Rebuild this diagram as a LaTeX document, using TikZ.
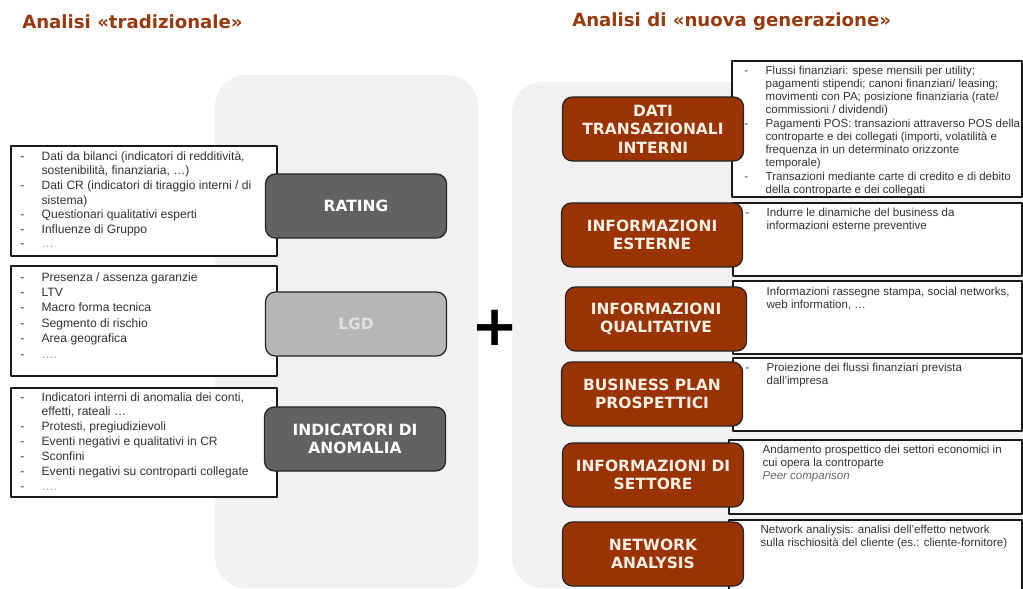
\documentclass[tikz,border=0pt]{standalone}
\usepackage{fontspec}
\setmainfont{Liberation Sans}
\newfontfamily\headfont{DejaVu Sans}
\usetikzlibrary{positioning}
\definecolor{panelgray}{RGB}{241,241,241}
\definecolor{titlebrown}{RGB}{150,58,14}
\definecolor{boxbrown}{RGB}{153,51,0}
\definecolor{boxdark}{RGB}{98,98,98}
\definecolor{boxlight}{RGB}{182,182,182}
\definecolor{tagtext}{RGB}{245,238,228}
\definecolor{listtext}{RGB}{50,50,50}

\newlength\bulw
\setlength\bulw{15.2pt}
\newcommand\bul{\makebox[\bulw][l]{-}}
\newcommand\cont{\hspace*{\bulw}}

\tikzset{
  headline/.style={anchor=west,inner sep=0pt,text=titlebrown,
    font=\headfont\bfseries\fontsize{12.9}{15}\selectfont},
  listbox/.style={draw=black!90,line width=1.1pt,fill=white,anchor=north west,inner sep=0pt},
  lefttxt/.style={anchor=north west,align=left,inner sep=0pt,text=listtext,
    font=\fontsize{8.6}{10.4}\selectfont},
  righttxt/.style={lefttxt,font=\fontsize{8.2}{9.1}\selectfont},
  tag/.style={draw=black!85,line width=0.9pt,rounded corners=7pt,
    minimum width=4.525cm,minimum height=1.6cm,align=center,inner sep=2pt,
    font=\headfont\bfseries\fontsize{11}{13.2}\selectfont},
  tagdark/.style={tag,fill=boxdark,text=white},
  taglight/.style={tag,fill=boxlight,text=white!88!black},
  tagbrown/.style={tag,fill=boxbrown,text=tagtext},
}

\begin{document}
\begin{tikzpicture}[x=0.025cm,y=-0.025cm,line join=round]
  \useasboundingbox (0,0) rectangle (1023,589);

  \fill[panelgray,rounded corners=22pt] (215,75) rectangle (478,588);
  \fill[panelgray,rounded corners=22pt] (512,82) rectangle (1070,588);

  \node[headline] (tradtitle) at (22,22) {Analisi «tradizionale»};
  \node[headline] (newtitle) at (572,22) {Analisi di «nuova generazione»};

  % analisi tradizionale
  \node[listbox,minimum width=6.65cm,minimum height=2.75cm] (bil) at (10,145) {};
  \node[listbox,minimum width=6.65cm,minimum height=2.75cm] (lgdlist) at (10,265) {};
  \node[listbox,minimum width=6.65cm,minimum height=2.725cm] (anomlist) at (10,387) {};

  \node[lefttxt] (biltxt) at ([shift={(10,6)}]bil.north west) {%
    \bul Dati da bilanci (indicatori di redditività,\\
    \cont sostenibilità, finanziaria, \dots)\\
    \bul Dati CR (indicatori di tiraggio interni / di\\
    \cont sistema)\\
    \bul Questionari qualitativi esperti\\
    \bul Influenze di Gruppo\\
    \bul{\color{black!40}\dots}};
  \node[lefttxt,font=\fontsize{8.6}{11}\selectfont] (lgdtxt) at ([shift={(10,7)}]lgdlist.north west) {%
    \bul Presenza / assenza garanzie\\
    \bul LTV\\
    \bul Macro forma tecnica\\
    \bul Segmento di rischio\\
    \bul Area geografica\\
    \bul{\color{black!40}\dots.}};
  \node[lefttxt,font=\fontsize{8.6}{10.6}\selectfont] (anomtxt) at ([shift={(10,5)}]anomlist.north west) {%
    \bul Indicatori interni di anomalia dei conti,\\
    \cont effetti, rateali \dots\\
    \bul Protesti, pregiudizievoli\\
    \bul Eventi negativi e qualitativi in CR\\
    \bul Sconfini\\
    \bul Eventi negativi su controparti collegate\\
    \bul{\color{black!40}\dots.}};

  \node[tagdark] (rating) at (356,206) {RATING};
  \node[taglight] (lgd) at (356,324) {LGD};
  \node[tagdark] (anom) at (355,439) {INDICATORI DI\\ANOMALIA};

  \node[inner sep=0pt,font=\headfont\bfseries\fontsize{40}{40}\selectfont] (plus) at (495,328) {+};

  % analisi di nuova generazione
  \node[listbox,minimum width=7.25cm,minimum height=3.4cm] (flows) at (731,60) {};
  \node[listbox,minimum width=7.225cm,minimum height=1.825cm] (extbox) at (732,202) {};
  \node[listbox,minimum width=7.225cm,minimum height=1.825cm] (qualbox) at (732,280) {};
  \node[listbox,minimum width=7.225cm,minimum height=1.825cm] (planbox) at (732,357) {};
  \node[listbox,minimum width=7.325cm,minimum height=1.85cm] (sectbox) at (728,439) {};
  \node[listbox,minimum width=7.325cm,minimum height=2.2cm] (netbox) at (728,519) {};

  \node[righttxt] (flowstxt) at ([shift={(13,6)}]flows.north west) {%
    \bul Flussi finanziari: spese mensili per utility;\\
    \cont pagamenti stipendi; canoni finanziari/ leasing;\\
    \cont movimenti con PA; posizione finanziaria (rate/\\
    \cont commissioni / dividendi)\\[1.4pt]
    \bul Pagamenti POS: transazioni attraverso POS della\\
    \cont controparte e dei collegati (importi, volatilità e\\
    \cont frequenza in un determinato orizzonte\\
    \cont temporale)\\[1.4pt]
    \bul Transazioni mediante carte di credito e di debito\\
    \cont della controparte e dei collegati};
  \node[righttxt] (exttxt) at ([shift={(13,6)}]extbox.north west) {%
    \bul Indurre le dinamiche del business da\\
    \cont informazioni esterne preventive};
  \node[righttxt] (qualtxt) at ([shift={(13,7)}]qualbox.north west) {%
    \cont Informazioni rassegne stampa, social networks,\\
    \cont web information, \dots};
  \node[righttxt] (plantxt) at ([shift={(13,6)}]planbox.north west) {%
    \bul Proiezione dei flussi finanziari prevista\\
    \cont dall’impresa};
  \node[righttxt] (secttxt) at ([shift={(13,6)}]sectbox.north west) {%
    \cont Andamento prospettico dei settori economici in\\
    \cont cui opera la controparte\\
    \cont{\color{black!60}\itshape Peer comparison}};
  \node[righttxt] (nettxt) at ([shift={(11,6)}]netbox.north west) {%
    \cont Network analiysis: analisi dell’effetto network\\
    \cont sulla rischiosità del cliente (es.: cliente-fornitore)};

  \node[tagbrown] (dati) at (653,129) {DATI\\TRANSAZIONALI\\INTERNI};
  \node[tagbrown] (esterne) at (652,235) {INFORMAZIONI\\ESTERNE};
  \node[tagbrown] (qualit) at (656,319) {INFORMAZIONI\\QUALITATIVE};
  \node[tagbrown] (bplan) at (652,394) {BUSINESS PLAN\\PROSPETTICI};
  \node[tagbrown] (settore) at (653,475) {INFORMAZIONI DI\\SETTORE};
  \node[tagbrown] (netw) at (653,554) {NETWORK\\ANALYSIS};
\end{tikzpicture}
\end{document}
